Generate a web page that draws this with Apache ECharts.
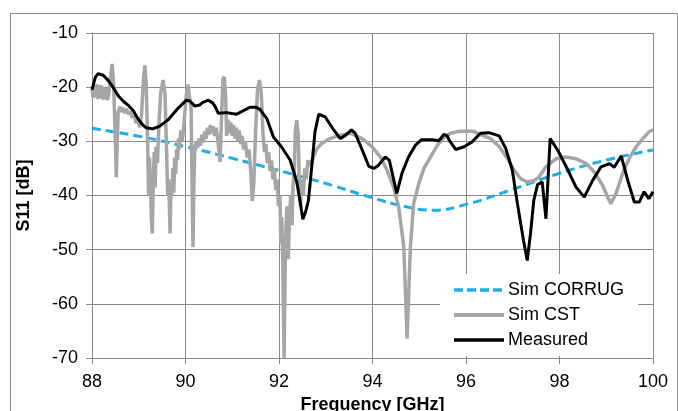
<!DOCTYPE html>
<html>
<head>
<meta charset="utf-8">
<script src="https://cdn.jsdelivr.net/npm/echarts@6/dist/echarts.min.js"></script>
<style>
html,body{margin:0;padding:0;background:#fff;}
#chart{width:678px;height:411px;}
</style>
</head>
<body>
<div id="chart"></div>
<script>
// ---- data ----
var xTicks = [88, 90, 92, 94, 96, 98, 100];
var yTicks = [-70, -60, -50, -40, -30, -20, -10];
var seriesNames = ['Sim CORRUG', 'Sim CST', 'Measured'];

var corrugFreq = [88.0, 89.09, 90.01, 91.03, 91.96, 92.97, 93.99, 94.73, 95.28, 96.02, 96.95, 98.0, 98.98, 100.0];
var corrugDb   = [-27.6, -29.2, -31.0, -33.2, -35.3, -37.7, -40.4, -42.1, -42.7, -41.6, -39.0, -35.9, -33.5, -31.6];

var cstFreq = [88.00,88.03,88.05,88.08,88.10,88.13,88.15,88.18,88.20,88.23,88.25,88.28,88.30,88.33,88.36,88.40,88.43,88.46,88.49,88.52,88.54,88.56,88.60,88.63,88.66,88.70,88.74,88.78,88.82,88.86,88.90,88.94,88.98,89.02,89.06,89.10,89.13,89.16,89.19,89.21,89.23,89.25,89.27,89.29,89.31,89.33,89.35,89.37,89.40,89.43,89.47,89.52,89.56,89.59,89.62,89.64,89.67,89.69,89.71,89.73,89.75,89.77,89.79,89.81,89.83,89.85,89.87,89.90,89.93,89.97,90.01,90.05,90.09,90.12,90.14,90.16,90.18,90.20,90.23,90.26,90.29,90.32,90.35,90.38,90.41,90.44,90.47,90.50,90.53,90.56,90.59,90.62,90.66,90.70,90.74,90.77,90.80,90.83,90.86,90.88,90.91,90.94,90.97,91.00,91.03,91.06,91.09,91.12,91.15,91.18,91.21,91.24,91.28,91.32,91.36,91.40,91.43,91.46,91.50,91.54,91.58,91.62,91.66,91.69,91.72,91.75,91.78,91.81,91.84,91.87,91.90,91.93,91.96,91.99,92.02,92.04,92.06,92.08,92.11,92.13,92.15,92.17,92.20,92.22,92.25,92.28,92.30,92.33,92.35,92.38,92.41,92.43,92.46,92.49,92.52,92.55,92.58,92.62,92.66,92.71,92.80,92.90,93.06,93.28,93.53,93.78,93.99,94.17,94.31,94.45,94.56,94.67,94.74,94.81,94.88,94.99,95.10,95.24,95.39,95.53,95.67,95.82,95.99,96.17,96.35,96.53,96.71,96.89,97.03,97.17,97.31,97.46,97.56,97.71,97.93,98.14,98.35,98.57,98.74,98.92,99.03,99.10,99.21,99.35,99.49,99.64,99.78,99.92,100.0];
var cstDb = [-20.5,-22.0,-19.8,-21.8,-19.5,-22.2,-19.6,-22.0,-19.7,-22.3,-20.0,-22.2,-20.2,-22.4,-21.0,-18.0,-15.7,-19.0,-27.0,-36.6,-30.0,-24.5,-23.6,-24.6,-23.8,-24.8,-24.0,-25.0,-24.5,-25.6,-25.2,-26.6,-26.2,-27.4,-25.0,-18.5,-16.0,-19.5,-30.0,-39.9,-33.0,-38.0,-44.0,-47.0,-38.0,-32.0,-38.5,-31.0,-34.0,-27.0,-21.0,-18.7,-21.0,-30.0,-40.0,-37.0,-47.0,-38.0,-40.0,-35.0,-39.5,-33.0,-36.0,-31.5,-33.5,-29.5,-31.5,-28.0,-30.0,-26.5,-22.0,-19.5,-19.3,-24.0,-38.0,-49.5,-38.0,-31.0,-30.0,-31.2,-29.5,-30.8,-28.8,-30.2,-28.2,-29.5,-27.5,-28.8,-27.0,-28.5,-27.2,-29.0,-27.5,-30.5,-33.8,-26.0,-18.5,-18.1,-22.0,-29.0,-26.0,-28.5,-26.5,-29.0,-27.0,-29.5,-27.5,-30.0,-28.0,-30.5,-29.0,-31.5,-30.0,-33.0,-31.5,-36.0,-41.0,-38.0,-28.0,-20.5,-18.7,-21.0,-29.0,-32.0,-30.5,-34.0,-32.0,-35.5,-33.5,-37.0,-35.0,-39.0,-37.0,-42.0,-40.0,-48.9,-44.0,-52.0,-70.0,-55.0,-46.0,-42.0,-51.7,-45.0,-40.0,-45.5,-38.0,-35.0,-28.0,-26.1,-28.5,-36.0,-42.0,-37.0,-40.0,-35.0,-37.0,-33.5,-34.5,-33.5,-31.5,-30.5,-29.6,-28.9,-28.5,-29.5,-31.0,-32.9,-35.3,-38.4,-42.1,-49.5,-66.4,-49.5,-41.5,-37.8,-35.0,-32.9,-30.7,-29.3,-28.5,-28.2,-28.1,-28.2,-28.9,-29.5,-31.0,-33.2,-35.3,-36.9,-37.5,-37.2,-36.6,-34.7,-33.2,-32.9,-33.2,-34.1,-35.6,-38.1,-40.3,-41.5,-39.6,-35.9,-33.2,-31.0,-29.5,-28.2,-27.9];

var measFreq = [88.00,88.07,88.13,88.24,88.34,88.45,88.56,88.67,88.77,88.88,88.98,89.08,89.16,89.30,89.45,89.63,89.84,90.02,90.10,90.20,90.30,90.37,90.49,90.58,90.63,90.70,90.88,91.09,91.27,91.38,91.50,91.59,91.74,91.88,92.06,92.24,92.38,92.45,92.51,92.57,92.63,92.70,92.77,92.85,92.88,92.99,93.17,93.31,93.42,93.55,93.63,93.78,93.92,94.03,94.13,94.27,94.36,94.52,94.63,94.77,94.92,95.05,95.28,95.42,95.53,95.60,95.64,95.78,95.96,96.13,96.31,96.49,96.71,96.85,96.99,97.10,97.23,97.31,97.38,97.45,97.53,97.63,97.71,97.80,97.96,98.18,98.35,98.53,98.71,98.89,99.07,99.17,99.32,99.46,99.60,99.71,99.81,99.91,100.0];
var measDb = [-20.5,-18.2,-17.5,-17.8,-18.7,-20.0,-21.6,-22.6,-23.3,-24.3,-25.8,-26.9,-27.5,-27.7,-27.2,-26.0,-23.9,-22.4,-22.6,-23.5,-23.3,-22.8,-22.4,-22.9,-23.5,-24.8,-24.7,-25.0,-24.2,-23.7,-23.7,-24.1,-25.8,-29.2,-31.1,-33.5,-37.5,-41.0,-44.4,-43.0,-40.9,-34.7,-28.2,-25.0,-24.8,-25.5,-27.9,-29.5,-28.9,-27.9,-28.5,-31.6,-34.6,-35.0,-34.4,-32.9,-33.5,-39.6,-35.9,-32.9,-30.7,-29.7,-29.7,-29.9,-28.7,-29.0,-29.8,-31.5,-31.0,-30.1,-28.5,-28.4,-29.0,-31.3,-35.3,-41.5,-48.3,-52.0,-47.0,-40.9,-38.0,-37.5,-44.3,-29.5,-31.6,-35.3,-38.4,-40.3,-37.2,-34.7,-34.1,-34.8,-32.7,-37.2,-41.2,-41.2,-39.3,-40.6,-39.3];

function pairs(xs, ys){ return xs.map(function(x,i){ return [x, ys[i]]; }); }

var FONT = '"Liberation Sans", Arial, sans-serif';
var GRID = '#8a8a8a';
var COLORS = ['#1aaeea', '#a6a6a6', '#000000'];

var chart = echarts.init(document.getElementById('chart'), null, {renderer:'canvas'});
chart.setOption({
  animation: false,
  backgroundColor: '#ffffff',
  graphic: [{
    type: 'rect', left: 8, top: 11, silent: true, z: -1,
    shape: {x: 0.5, y: 0.5, width: 667, height: 430},
    style: {fill: 'none', stroke: '#8a8a8a', lineWidth: 1}
  }],
  grid: {left: 92, right: 25, top: 33, bottom: 53, containLabel: false, outerBoundsMode: 'none'},
  xAxis: {
    type: 'value', min: xTicks[0], max: xTicks[xTicks.length-1], interval: 2,
    name: 'Frequency [GHz]', nameLocation: 'middle', nameGap: 36,
    nameTextStyle: {fontFamily: FONT, fontSize: 18, fontWeight: 'bold', color: '#000'},
    axisLine: {lineStyle: {color: GRID, width: 1}},
    axisTick: {show: true, inside: false, length: 6, lineStyle: {color: GRID}},
    axisLabel: {fontFamily: FONT, fontSize: 18, color: '#000', margin: 15},
    splitLine: {show: true, lineStyle: {color: GRID, width: 1}}
  },
  yAxis: {
    type: 'value', min: yTicks[0], max: yTicks[yTicks.length-1], interval: 10,
    name: 'S11 [dB]', nameLocation: 'middle', nameGap: 59, nameRotate: 90,
    nameTextStyle: {fontFamily: FONT, fontSize: 18, fontWeight: 'bold', color: '#000'},
    axisLine: {show: true, lineStyle: {color: GRID, width: 1}},
    axisTick: {show: true, inside: false, length: 6, lineStyle: {color: GRID}},
    axisLabel: {fontFamily: FONT, fontSize: 18, color: '#000', margin: 14},
    splitLine: {show: true, lineStyle: {color: GRID, width: 1}}
  },
  legend: {
    orient: 'vertical', left: 440, top: 274,
    padding: [7, 14, 7, 12],
    backgroundColor: '#ffffff',
    itemWidth: 50, itemHeight: 14, itemGap: 7,
    itemStyle: {opacity: 0},
    textStyle: {fontFamily: FONT, fontSize: 18, color: '#000', padding: [0,0,0,-1]},
    data: [
      {name: seriesNames[0], lineStyle: {width: 3.5, color: COLORS[0], type: [9, 4]}},
      {name: seriesNames[1], lineStyle: {width: 4, color: COLORS[1]}},
      {name: seriesNames[2], lineStyle: {width: 3.5, color: COLORS[2]}}
    ]
  },
  series: [
    {
      name: seriesNames[0], type: 'line', data: pairs(corrugFreq, corrugDb),
      smooth: true, symbol: 'none', z: 2,
      lineStyle: {color: COLORS[0], width: 3, type: [9, 5]},
      itemStyle: {color: COLORS[0]}
    },
    {
      name: seriesNames[1], type: 'line', data: pairs(cstFreq, cstDb),
      symbol: 'none', z: 3,
      lineStyle: {color: COLORS[1], width: 3.5},
      itemStyle: {color: COLORS[1]}
    },
    {
      name: seriesNames[2], type: 'line', data: pairs(measFreq, measDb),
      symbol: 'none', z: 4,
      lineStyle: {color: COLORS[2], width: 3},
      itemStyle: {color: COLORS[2]}
    }
  ]
});
</script>
</body>
</html>
